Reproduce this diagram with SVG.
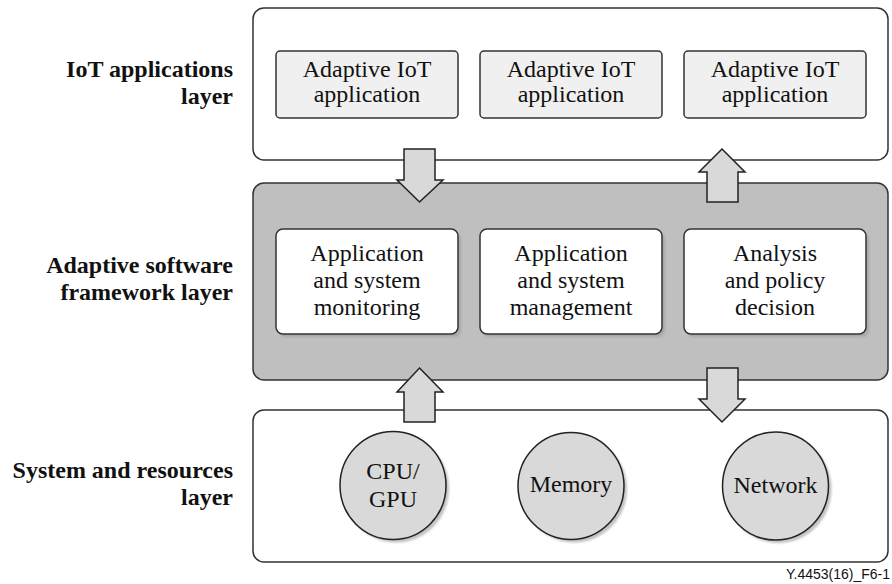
<svg xmlns="http://www.w3.org/2000/svg" width="892" height="584" viewBox="0 0 892 584">
<defs>
<style>
.layer{stroke:#333;stroke-width:1.5}
.lbl{font-family:'Liberation Serif','Times New Roman',serif;font-weight:bold;font-size:24px;fill:#111;text-anchor:end}
.t{font-family:'Liberation Serif','Times New Roman',serif;font-size:24px;fill:#111;text-anchor:middle}
.appbox{fill:#f0f0f0;stroke:#333;stroke-width:1.5}
.fbox{fill:#fff;stroke:#333;stroke-width:1.5}
.circ{fill:#d9d9d9;stroke:#222;stroke-width:1.5}
.arrow{fill:#d9d9d9;stroke:#222;stroke-width:1.5;stroke-linejoin:miter}
.shadow{fill:#999;opacity:0.6}
.foot{font-family:'Liberation Sans',Arial,sans-serif;font-size:14px;fill:#111;text-anchor:end}
</style>
<filter id="blur" x="-10%" y="-10%" width="120%" height="120%"><feGaussianBlur stdDeviation="1.2"/></filter>
</defs>
<rect width="892" height="584" fill="#fff"/>

<g id="layer-iot">
<rect class="layer" x="253" y="8" width="635" height="152" rx="11" fill="#fff"/>
<text class="lbl" x="233" y="77">IoT applications</text>
<text class="lbl" x="233" y="103.5">layer</text>
</g>
<g id="layer-framework">
<rect class="layer" x="253" y="183" width="635" height="197" rx="11" fill="#bfbfbf"/>
<text class="lbl" x="233" y="273">Adaptive software</text>
<text class="lbl" x="233" y="300">framework layer</text>
</g>
<g id="layer-system">
<rect class="layer" x="253" y="410" width="635" height="152" rx="11" fill="#fff"/>
<text class="lbl" x="233" y="478">System and resources</text>
<text class="lbl" x="233" y="505">layer</text>
</g>

<g id="app1">
<rect class="appbox" x="276" y="51" width="182" height="67" rx="4"/>
<text class="t" x="367" y="77">Adaptive IoT</text>
<text class="t" x="367" y="101.5">application</text>
</g>
<g id="app2">
<rect class="appbox" x="480" y="51" width="182" height="67" rx="4"/>
<text class="t" x="571" y="77">Adaptive IoT</text>
<text class="t" x="571" y="101.5">application</text>
</g>
<g id="app3">
<rect class="appbox" x="684" y="51" width="182" height="67" rx="4"/>
<text class="t" x="775" y="77">Adaptive IoT</text>
<text class="t" x="775" y="101.5">application</text>
</g>

<g id="monitoring">
<rect class="shadow" x="279" y="232" width="182" height="105" rx="7" filter="url(#blur)"/>
<rect class="fbox" x="276" y="229" width="182" height="105" rx="7"/>
<text class="t" x="367" y="260.5">Application</text>
<text class="t" x="367" y="288">and system</text>
<text class="t" x="367" y="315">monitoring</text>
</g>
<g id="management">
<rect class="shadow" x="483" y="232" width="182" height="105" rx="7" filter="url(#blur)"/>
<rect class="fbox" x="480" y="229" width="182" height="105" rx="7"/>
<text class="t" x="571" y="260.5">Application</text>
<text class="t" x="571" y="288">and system</text>
<text class="t" x="571" y="315">management</text>
</g>
<g id="analysis">
<rect class="shadow" x="687" y="232" width="182" height="105" rx="7" filter="url(#blur)"/>
<rect class="fbox" x="684" y="229" width="182" height="105" rx="7"/>
<text class="t" x="775" y="260.5">Analysis</text>
<text class="t" x="775" y="288">and policy</text>
<text class="t" x="775" y="315">decision</text>
</g>

<g id="cpu">
<ellipse class="shadow" cx="396" cy="488.5" rx="53" ry="54" filter="url(#blur)"/>
<ellipse class="circ" cx="393" cy="485.5" rx="53" ry="54"/>
<text class="t" x="393" y="479">CPU/</text>
<text class="t" x="393" y="506.5">GPU</text>
</g>
<g id="memory">
<ellipse class="shadow" cx="574" cy="489" rx="53" ry="53.5" filter="url(#blur)"/>
<ellipse class="circ" cx="571" cy="486" rx="53" ry="53.5"/>
<text class="t" x="571" y="492">Memory</text>
</g>
<g id="network">
<ellipse class="shadow" cx="778.5" cy="489" rx="53" ry="54" filter="url(#blur)"/>
<ellipse class="circ" cx="775.5" cy="486" rx="53" ry="54"/>
<text class="t" x="775.5" y="493">Network</text>
</g>

<g id="connectors">
<polygon class="arrow" points="404,149 435,149 435,180 443,180 419.5,202 397,180 404,180"/>
<polygon class="arrow" points="722,149 745,172 738,172 738,202 707,202 707,172 699,172"/>
<polygon class="arrow" points="419.5,368 443,392 435,392 435,422 404,422 404,392 397,392"/>
<polygon class="arrow" points="707,368 738,368 738,399 745,399 722,422 699,399 707,399"/>
</g>

<text class="foot" x="890" y="579">Y.4453(16)_F6-1</text>
</svg>
